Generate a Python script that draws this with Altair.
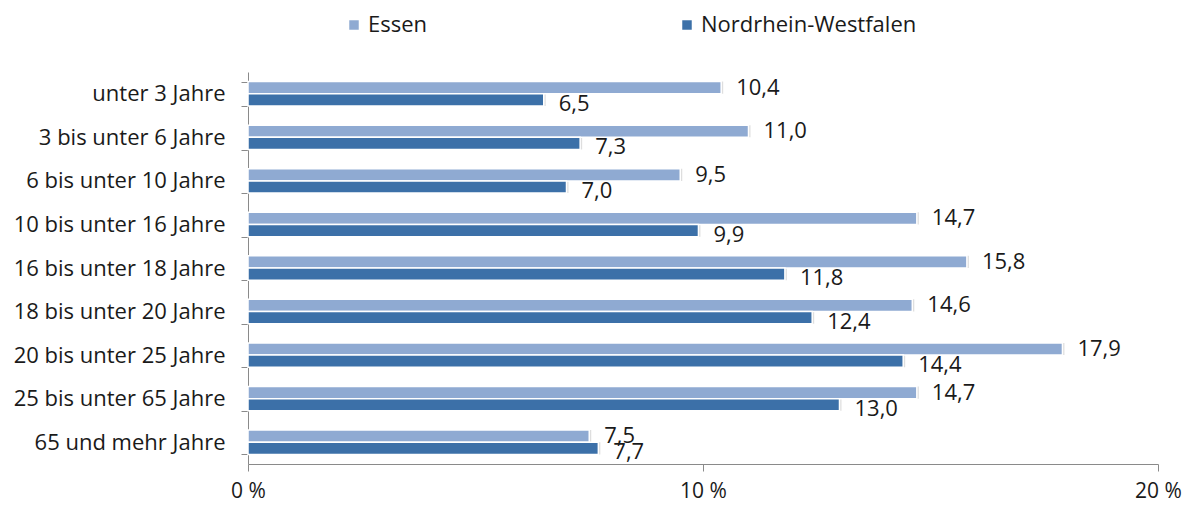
import altair as alt
import pandas as pd

categories = ["unter 3 Jahre", "3 bis unter 6 Jahre", "6 bis unter 10 Jahre",
              "10 bis unter 16 Jahre", "16 bis unter 18 Jahre", "18 bis unter 20 Jahre",
              "20 bis unter 25 Jahre", "25 bis unter 65 Jahre", "65 und mehr Jahre"]
essen = [10.4, 11.0, 9.5, 14.7, 15.8, 14.6, 17.9, 14.7, 7.5]
nrw = [6.5, 7.3, 7.0, 9.9, 11.8, 12.4, 14.4, 13.0, 7.7]
series = ["Essen", "Nordrhein-Westfalen"]
colors = ["#8faad2", "#3c70a8"]
x_ticks = [0, 10, 20]

rows = []
for c, e, n in zip(categories, essen, nrw):
    rows.append({"cat": c, "series": series[0], "value": e, "label": f"{e:.1f}".replace(".", ",")})
    rows.append({"cat": c, "series": series[1], "value": n, "label": f"{n:.1f}".replace(".", ",")})
df = pd.DataFrame(rows)

FONT = "Open Sans"
FS = 22

y_enc = alt.Y("cat:N", sort=categories, title=None,
              scale=alt.Scale(paddingInner=0.44, paddingOuter=0.22),
              axis=alt.Axis(tickBand="extent", labelFontSize=22, labelFont=FONT,
                            labelColor="#1a1a1a", labelPadding=16, tickSize=7,
                            tickColor="#8a8a8a", domainColor="#8a8a8a",
                            minExtent=240, maxExtent=240, labelLimit=300))
x_enc = alt.X("value:Q", title=None,
              scale=alt.Scale(domain=[0, 20], nice=False),
              axis=alt.Axis(values=x_ticks, labelExpr="datum.value + ' %'", grid=False,
                            labelFontSize=21, labelFont=FONT, labelColor="#1a1a1a",
                            labelFlush=False, labelAlign="center",
                            tickSize=7, tickColor="#8a8a8a", domainColor="#8a8a8a",
                            labelPadding=9))
yoff = alt.YOffset("series:N", sort=series, scale=alt.Scale(paddingInner=0, paddingOuter=0))
color = alt.Color("series:N", sort=series,
                  scale=alt.Scale(domain=series, range=colors),
                  legend=alt.Legend(title=None, orient="none", legendX=95, legendY=-58,
                                    direction="horizontal", symbolType="square",
                                    symbolSize=90, symbolStrokeWidth=0, labelFontSize=22,
                                    labelFont=FONT, labelColor="#1a1a1a", columnPadding=248,
                                    labelOffset=3, labelLimit=400))

base = alt.Chart(df)
shadow = base.mark_bar(color="#000000", opacity=0.13, xOffset=2, yOffset=3).encode(
    y=alt.Y("cat:N", sort=categories), x="value:Q", yOffset=yoff)
bars = base.mark_bar(stroke="white", strokeWidth=1.5).encode(
    y=y_enc, x=x_enc, yOffset=yoff, color=color)

def text_layer(name, dy):
    return base.transform_filter(alt.datum.series == name).mark_text(
        align="left", baseline="middle", dx=15, dy=dy, fontSize=FS,
        font=FONT, color="#1a1a1a").encode(
        y=alt.Y("cat:N", sort=categories), x="value:Q", yOffset=yoff, text="label:N")

chart = alt.layer(shadow, bars, text_layer("Essen", 0),
                  text_layer("Nordrhein-Westfalen", 4)).properties(
    width=910, height=392,
    autosize=alt.AutoSizeParams(type="none"),
    padding={"left": 240, "top": 64, "right": 27, "bottom": 42},
).configure_view(stroke=None)

chart.save("out.html", embed_options={"renderer": "svg", "actions": False})
